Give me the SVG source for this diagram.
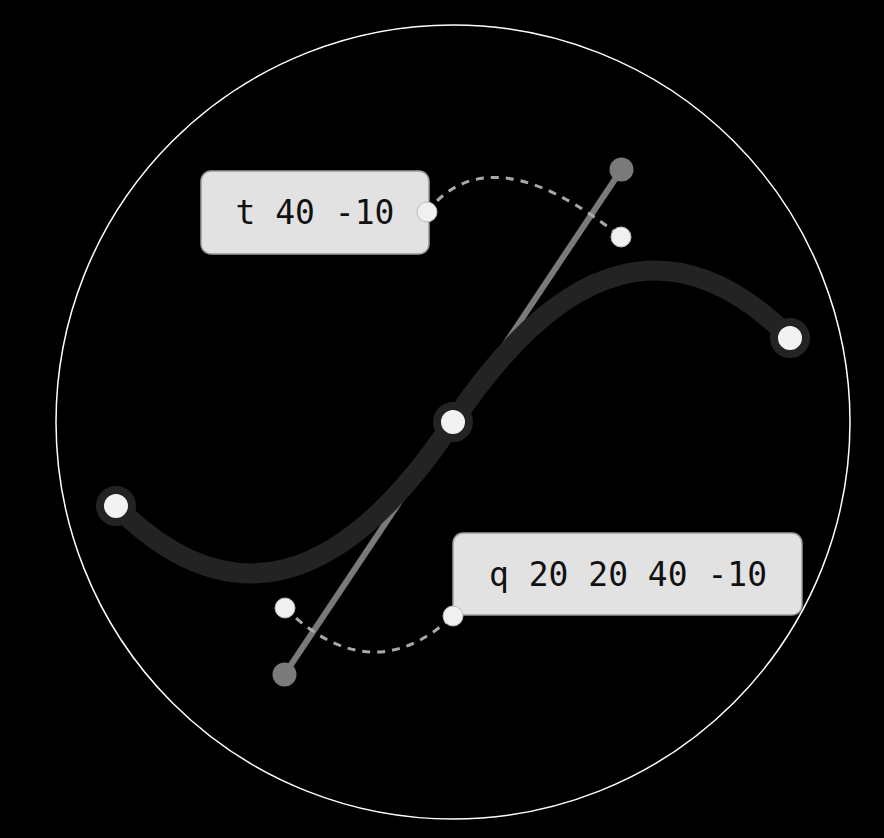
<svg xmlns="http://www.w3.org/2000/svg" width="884" height="838" viewBox="0 0 884 838">
<style>
.ctl{stroke:#7a7a7a;stroke-width:6;fill:none}
.cdot{fill:#7a7a7a}
.dash{fill:none;stroke:#a8a8a8;stroke-width:3;stroke-dasharray:8 7}
.sdot{fill:#f0f0f0;stroke:#bbb;stroke-width:1}
.curve{fill:none;stroke:#232323;stroke-width:20;stroke-linecap:round}
.node{fill:#f2f2f2;stroke:#232323;stroke-width:8}
.box{fill:#e2e2e2;stroke:#9a9a9a;stroke-width:1.5}
.lbl{font-family:"DejaVu Sans Mono","Liberation Mono",monospace;font-size:33px;fill:#111;text-anchor:middle}
</style>
<rect width="884" height="838" fill="#000"/>
<circle cx="453" cy="422" r="397" fill="none" stroke="#fff" stroke-width="1.5"/>
<g id="connectors">
<line class="ctl" x1="284.5" y1="674.5" x2="621.5" y2="169.5"/>
<path class="dash" d="M285 608 Q371 692 453 616"/>
<path class="dash" d="M427 212 Q490 132 621 237"/>
<path class="curve" d="M116 506 Q284.5 674.5 453 422 T790 338"/>
</g>
<g id="ctrl1"><circle class="cdot" cx="284.5" cy="674.5" r="12"/></g>
<g id="ctrl2"><circle class="cdot" cx="621.5" cy="169.5" r="12"/></g>
<g id="label-t">
<rect class="box" x="201" y="171" width="228" height="83" rx="10"/>
<text class="lbl" x="315" y="224">t 40 -10</text>
</g>
<g id="label-q">
<rect class="box" x="453" y="533" width="349" height="82" rx="10"/>
<text class="lbl" x="628" y="586">q 20 20 40 -10</text>
</g>
<g id="dot1"><circle class="sdot" cx="285" cy="608" r="10"/></g>
<g id="dot2"><circle class="sdot" cx="453" cy="616" r="10"/></g>
<g id="dot3"><circle class="sdot" cx="427" cy="212" r="10"/></g>
<g id="dot4"><circle class="sdot" cx="621" cy="237" r="10"/></g>
<g id="start"><circle class="node" cx="116" cy="506" r="16"/></g>
<g id="mid"><circle class="node" cx="453" cy="422" r="16"/></g>
<g id="end"><circle class="node" cx="790" cy="338" r="16"/></g>
</svg>
